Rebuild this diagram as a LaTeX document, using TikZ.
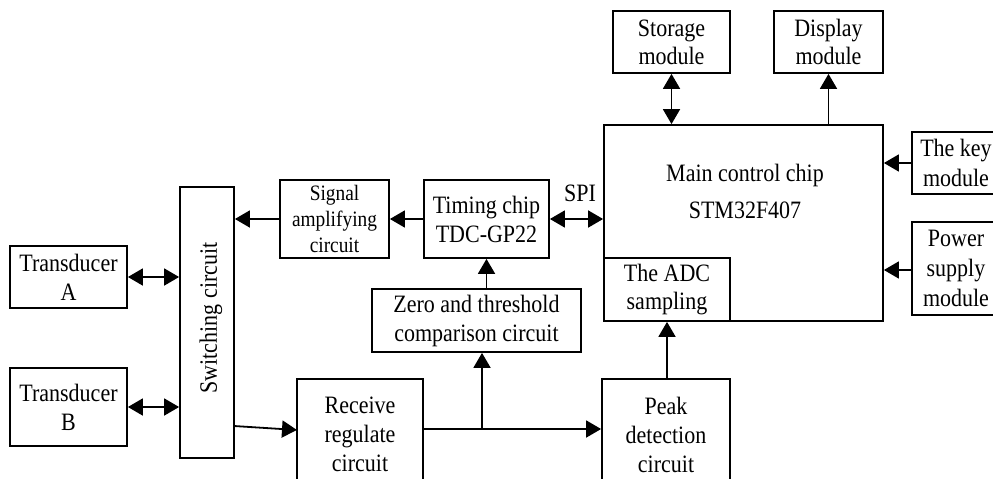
\documentclass[tikz,border=0pt]{standalone}
\usepackage{fontspec}
\setmainfont{Liberation Serif}[FakeStretch=0.88]
\usetikzlibrary{arrows.meta,calc}
\begin{document}
\begin{tikzpicture}[x=1pt,y=-1pt,
  box/.style={draw, line width=1.8pt, inner sep=0pt, align=center, font=\fontsize{25}{29}\selectfont},
  lbl/.style={inner sep=0pt, align=center, font=\fontsize{25}{29}\selectfont},
  conn/.style={line width=1.8pt, -{Triangle[length=15pt,width=17pt]}},
  bi/.style={line width=1.8pt, {Triangle[length=15pt,width=17pt]}-{Triangle[length=15pt,width=17pt]}}]
\useasboundingbox (0,0) rectangle (993,479);
\clip (0,0) rectangle (993,479);
% boxes
\node[box, minimum width=117pt, minimum height=62pt] (tA) at (68.5,277) {Transducer\\A};
\node[box, minimum width=117pt, minimum height=78pt] (tB) at (68.5,407) {Transducer\\B};
\node[box, minimum width=54pt, minimum height=271pt] (sw) at (207,322.5) {};
\node[lbl, rotate=90] (swt) at (211,318) {Switching circuit};
\node[box, minimum width=109pt, minimum height=78pt, font=\fontsize{22}{26}\selectfont] (sig) at (334.5,219) {Signal\\amplifying\\circuit};
\node[box, minimum width=125pt, minimum height=78pt] (tdc) at (486.5,219) {Timing chip\\TDC-GP22};
\node[box, minimum width=209pt, minimum height=63pt] (zero) at (476.5,320.5) {Zero and threshold\\comparison circuit};
\node[box, minimum width=126pt, minimum height=111pt] (rcv) at (360,434.5) {Receive\\regulate\\circuit};
\node[box, minimum width=128pt, minimum height=111pt] (peak) at (666,434.5) {Peak\\detection\\circuit};
\node[box, minimum width=279pt, minimum height=196pt] (main) at (743.5,223) {};
\node[lbl, font=\fontsize{25}{37}\selectfont] (mt) at (745,191) {Main control chip\\STM32F407};
\node[box, minimum width=126pt, minimum height=63pt, font=\fontsize{25}{28}\selectfont] (adc) at (667,289.5) {The ADC\\sampling};
\node[box, minimum width=117pt, minimum height=62pt, font=\fontsize{25}{28}\selectfont] (stor) at (671.5,42) {Storage\\module};
\node[box, minimum width=109pt, minimum height=62pt, font=\fontsize{25}{28}\selectfont] (disp) at (828.5,42) {Display\\module};
\node[box, minimum width=88pt, minimum height=62pt, font=\fontsize{25}{30}\selectfont] (key) at (956,163) {The key\\module};
\node[box, minimum width=88pt, minimum height=93pt, font=\fontsize{25}{30}\selectfont] (pow) at (956,268.5) {Power\\supply\\module};
\node[lbl] (spi) at (580,193) {SPI};
% helper coordinates
\coordinate (swout) at (234,426);
\coordinate (rcvin) at (297,430);
\coordinate (jn) at (482,429);
% connectors
\draw[conn] (sig.west) -- (sig.west -| sw.east);
\draw[conn] (tdc.west) -- (sig.east);
\draw[bi] (tdc.east) -- (tdc.east -| main.west);
\draw[bi] (tA.east) -- (tA.east -| sw.west);
\draw[bi] (tB.east) -- (tB.east -| sw.west);
\draw[conn] (swout) -- (rcvin);
\draw[conn] (rcv.east |- jn) -- (peak.west |- jn);
\draw[conn] (jn) -- (jn |- zero.south);
\draw[conn] (zero.north -| tdc.south) -- (tdc.south);
\draw[conn] (peak.north -| adc.south) -- (adc.south);
\draw[bi] (main.north -| stor.south) -- (stor.south);
\draw[conn] (main.north -| disp.south) -- (disp.south);
\draw[conn] (key.west) -- (key.west -| main.east);
\draw[conn] (pow.west |- 0,270) -- (main.east |- 0,270);
\end{tikzpicture}
\end{document}
